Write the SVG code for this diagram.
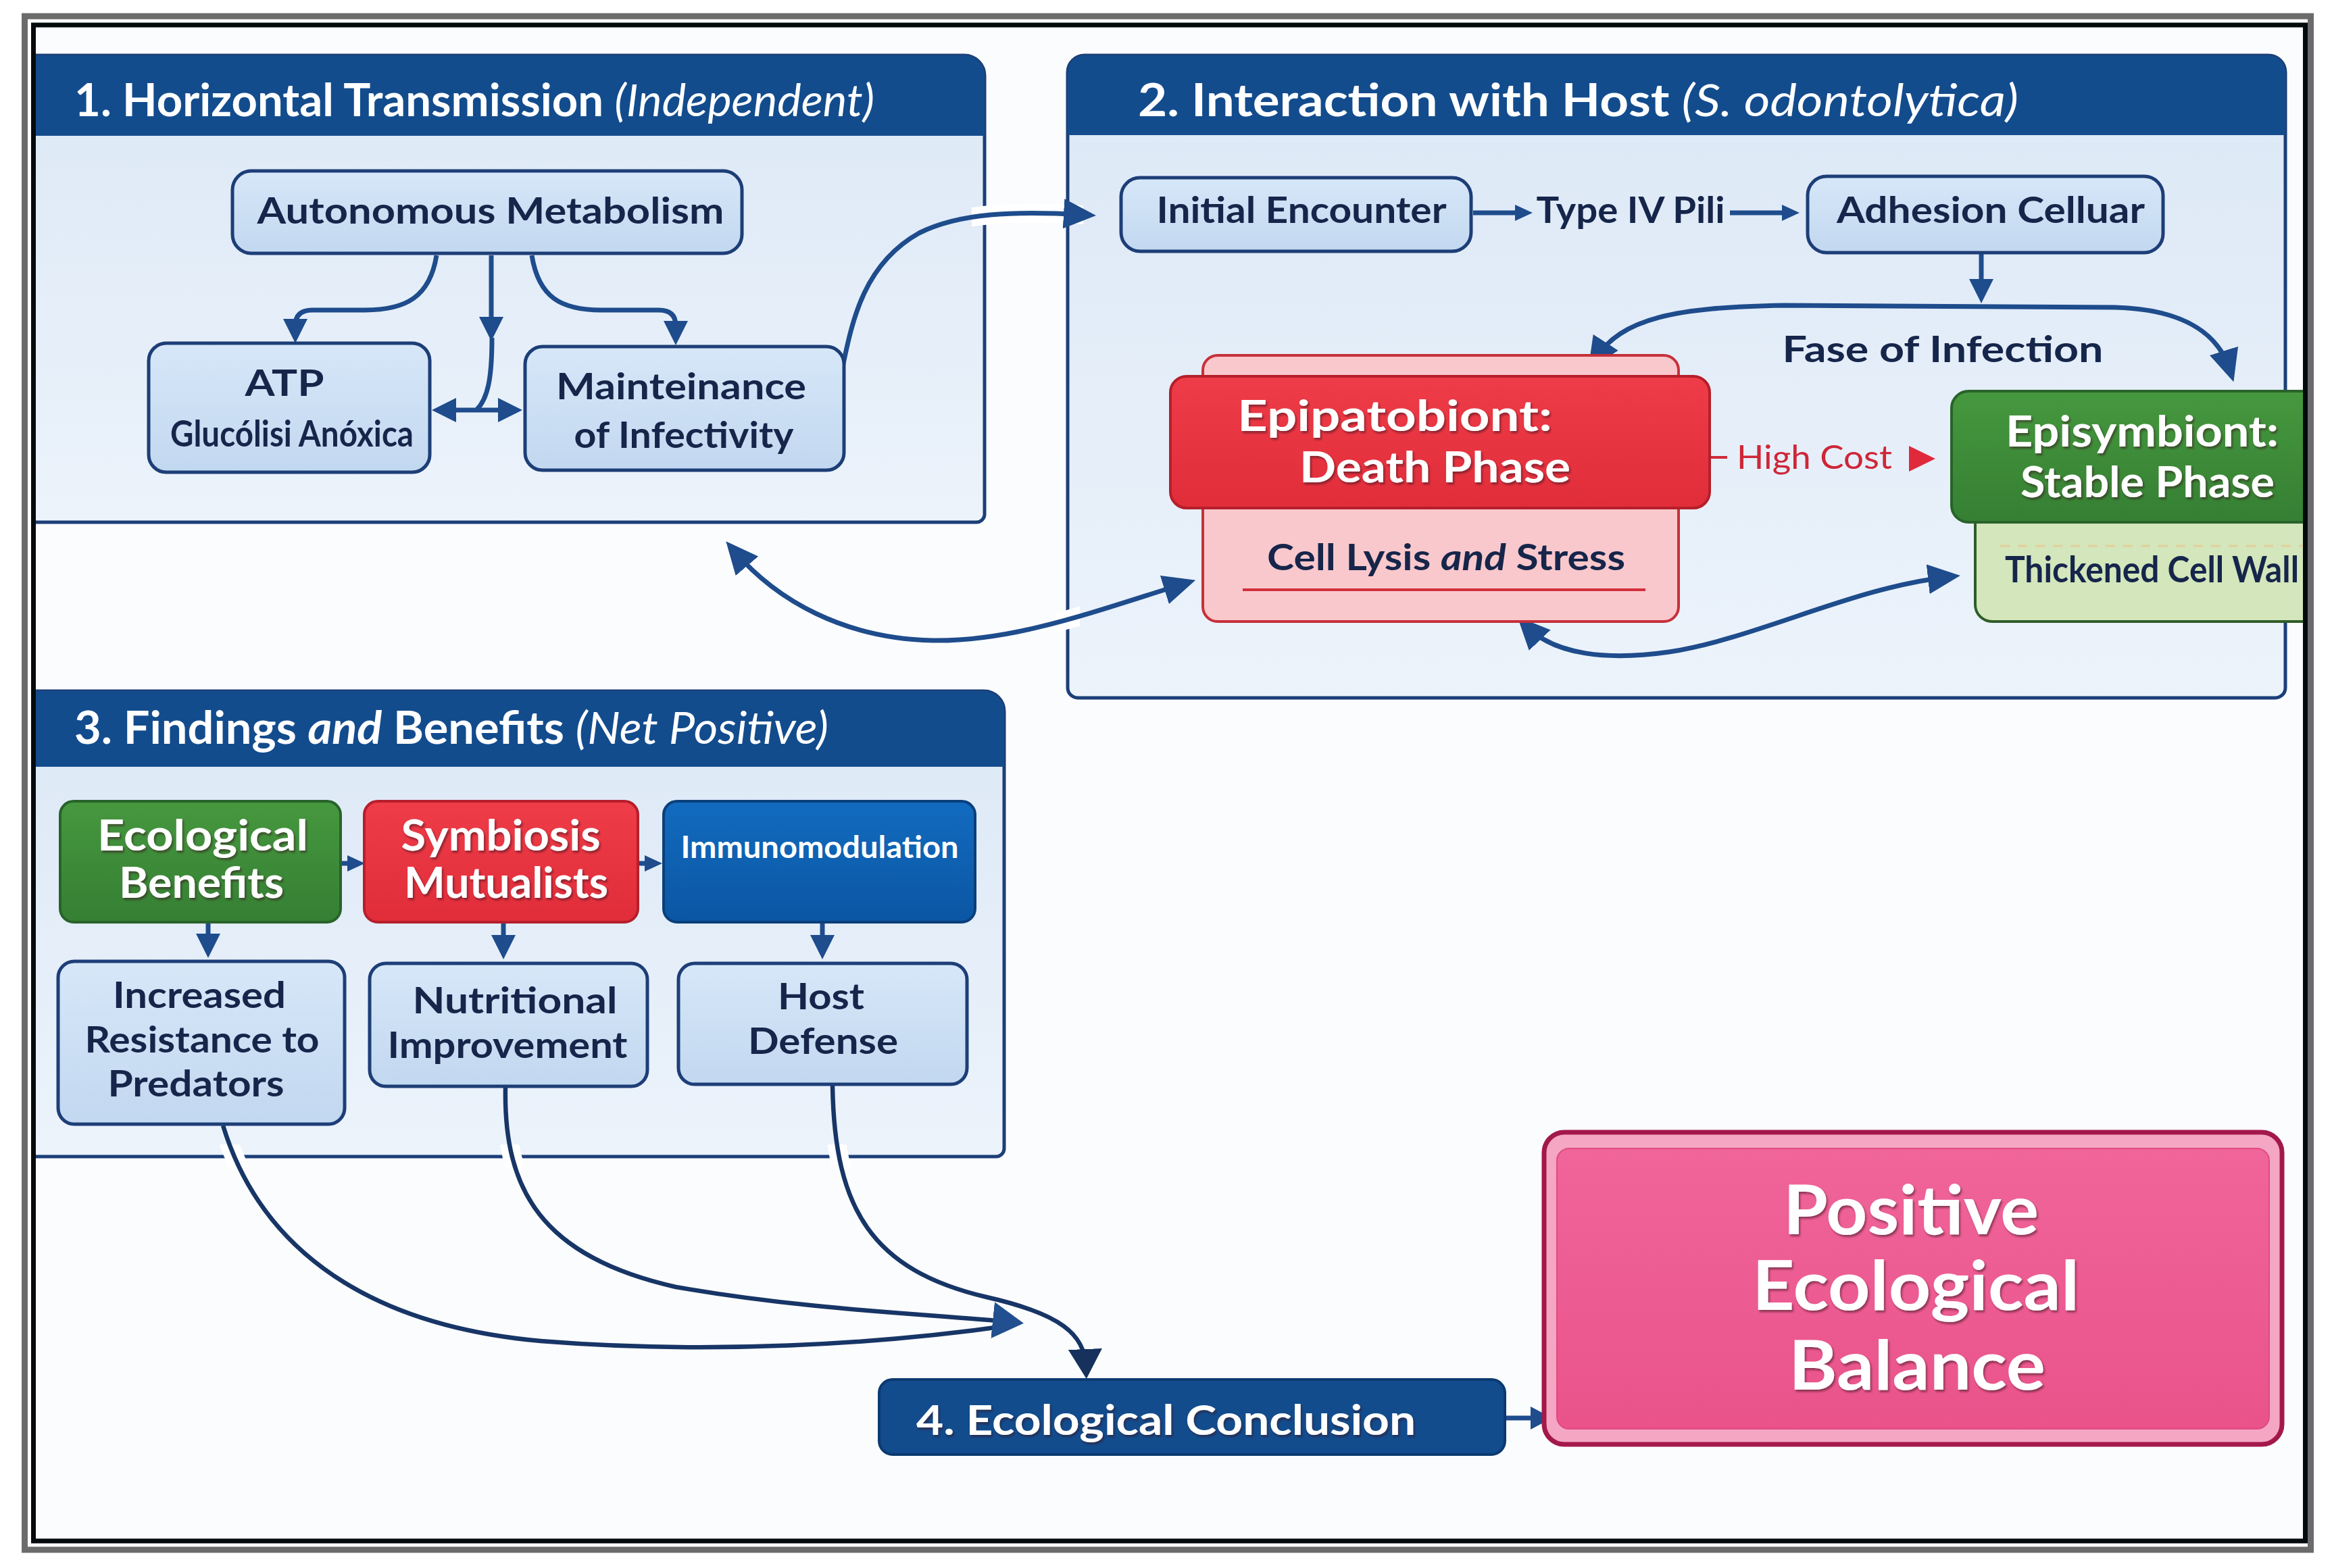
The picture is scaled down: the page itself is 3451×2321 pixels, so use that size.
<svg xmlns="http://www.w3.org/2000/svg" width="3451" height="2321" viewBox="0 0 3451 2321">
<style>
.t{font-family:Lato,"Liberation Sans",sans-serif}
.hd{font-size:66px;font-weight:700;fill:#ffffff}
.it{font-style:italic;font-weight:400}
.nd{font-size:54px;font-weight:700;fill:#16254a}
.wb{font-weight:700;fill:#ffffff}
.pnl{stroke:#1c3f78;stroke-width:5}
.hdr{fill:#134c8d}
.box{fill:url(#nf);stroke:#1d3e77;stroke-width:5}
.cn{fill:none;stroke:#1e4c8c;stroke-width:7}
.cd{fill:none;stroke:#173566;stroke-width:6.5}
.halo{fill:none;stroke:#ffffff;stroke-width:28}
</style>
<defs>
<linearGradient id="pf" x1="0" y1="0" x2="0" y2="1"><stop offset="0" stop-color="#dce8f6"/><stop offset="1" stop-color="#ecf3fb"/></linearGradient>
<linearGradient id="nf" x1="0" y1="0" x2="0" y2="1"><stop offset="0" stop-color="#d6e7f8"/><stop offset="1" stop-color="#c2d8f0"/></linearGradient>
<linearGradient id="gr" x1="0" y1="0" x2="0" y2="1"><stop offset="0" stop-color="#46983f"/><stop offset="1" stop-color="#357f33"/></linearGradient>
<linearGradient id="rd" x1="0" y1="0" x2="0" y2="1"><stop offset="0" stop-color="#ee3c48"/><stop offset="1" stop-color="#e12d3a"/></linearGradient>
<linearGradient id="bl" x1="0" y1="0" x2="0" y2="1"><stop offset="0" stop-color="#126bbf"/><stop offset="1" stop-color="#0b56a3"/></linearGradient>
<linearGradient id="pk" x1="0" y1="0" x2="0" y2="1"><stop offset="0" stop-color="#f0659a"/><stop offset="1" stop-color="#e9538a"/></linearGradient>
<filter id="ts" x="-10%" y="-20%" width="120%" height="150%"><feDropShadow dx="2" dy="3" stdDeviation="1.5" flood-color="#3a0a1a" flood-opacity="0.55"/></filter>
<clipPath id="cp1"><rect x="1438" y="200" width="165" height="300"/></clipPath>
<clipPath id="cp2"><rect x="1562" y="850" width="36" height="140"/></clipPath>
<clipPath id="cp3"><rect x="0" y="1694" width="1500" height="36"/></clipPath>
<marker id="a1" viewBox="0 0 36 36" markerUnits="userSpaceOnUse" markerWidth="36" markerHeight="36" refX="18" refY="18" orient="auto-start-reverse"><path d="M0,0 L36,18 L0,36 Z" fill="#1e4c8c"/></marker>
<marker id="a2" viewBox="0 0 48 44" markerUnits="userSpaceOnUse" markerWidth="48" markerHeight="44" refX="30" refY="22" orient="auto-start-reverse"><path d="M0,0 L48,22 L0,44 Z" fill="#1e4c8c"/></marker>
<marker id="a3" viewBox="0 0 26 24" markerUnits="userSpaceOnUse" markerWidth="26" markerHeight="24" refX="8" refY="12" orient="auto-start-reverse"><path d="M0,0 L26,12 L0,24 Z" fill="#1e4c8c"/></marker>
<marker id="a4" viewBox="0 0 46 54" markerUnits="userSpaceOnUse" markerWidth="46" markerHeight="54" refX="28" refY="27" orient="auto"><path d="M0,0 L46,27 L0,54 Z" fill="#214f8f"/></marker>
<marker id="a5" viewBox="0 0 44 50" markerUnits="userSpaceOnUse" markerWidth="44" markerHeight="50" refX="26" refY="25" orient="auto"><path d="M0,0 L44,25 L0,50 Z" fill="#15315c"/></marker>
<marker id="a6" viewBox="0 0 32 34" markerUnits="userSpaceOnUse" markerWidth="32" markerHeight="34" refX="14" refY="17" orient="auto"><path d="M0,0 L32,17 L0,34 Z" fill="#1e4c8c"/></marker>
</defs>

<rect x="0" y="0" width="3451" height="2321" fill="#ffffff"/>
<rect x="50" y="37" width="3362" height="2244" fill="#fbfcfd"/>

<g id="panel1">
<path class="pnl" fill="url(#pf)" d="M50,82 H1427 A30,30 0 0 1 1457,112 V761 A12,12 0 0 1 1445,773 H50 Z"/>
<path class="hdr" d="M50,82 H1427 A30,30 0 0 1 1457,112 V201 H50 Z"/>
<text class="t hd" x="110" y="172" textLength="1184" lengthAdjust="spacingAndGlyphs">1. Horizontal Transmission <tspan class="it">(Independent)</tspan></text>
</g>
<g id="panel2">
<path class="pnl" fill="url(#pf)" d="M1605,82 H3357 A25,25 0 0 1 3382,107 V1018 A15,15 0 0 1 3367,1033 H1595 A15,15 0 0 1 1580,1018 V107 A25,25 0 0 1 1605,82 Z"/>
<path class="hdr" d="M1605,82 H3357 A25,25 0 0 1 3382,107 V200 H1580 V107 A25,25 0 0 1 1605,82 Z"/>
<text class="t hd" x="1684" y="172" textLength="1303" lengthAdjust="spacingAndGlyphs">2. Interaction with Host <tspan class="it">(S. odontolytica)</tspan></text>
</g>
<g id="panel3">
<path class="pnl" fill="url(#pf)" d="M50,1023 H1456 A30,30 0 0 1 1486,1053 V1700 A12,12 0 0 1 1474,1712 H50 Z"/>
<path class="hdr" d="M50,1023 H1456 A30,30 0 0 1 1486,1053 V1135 H50 Z"/>
<text class="t hd" x="110" y="1101" textLength="1116" lengthAdjust="spacingAndGlyphs">3. Findings <tspan font-style="italic">and</tspan> Benefits <tspan class="it">(Net Positive)</tspan></text>
</g>

<g id="connectors">
<g clip-path="url(#cp1)"><path class="halo" d="M1247,543 C1262,470 1280,390 1360,345 C1420,315 1500,312 1604,318"/></g>
<g clip-path="url(#cp2)"><path class="halo" d="M1086,815 C1150,890 1250,945 1380,948 C1500,950 1620,905 1752,864"/></g>
<g clip-path="url(#cp3)">
<path class="halo" d="M330,1666 C380,1830 520,1960 800,1985"/>
<path class="halo" d="M748,1609 C745,1760 800,1860 1000,1905"/>
<path class="halo" d="M1232,1607 C1235,1790 1290,1880 1460,1920"/>
</g>
<path class="cn" d="M646,378 C636,440 600,459 540,459 L462,459 Q437,459 437,482 L437,490" marker-end="url(#a1)"/>
<path class="cn" d="M727,378 L727,487" marker-end="url(#a1)"/>
<path class="cn" d="M728,500 C728,560 722,590 705,607"/>
<path class="cn" d="M657,607 L755,607" marker-start="url(#a1)" marker-end="url(#a1)"/>
<path class="cn" d="M787,378 C797,440 830,459 890,459 L975,459 Q1000,459 1000,482 L1000,493" marker-end="url(#a1)"/>
<path class="cn" d="M1247,543 C1262,470 1280,390 1360,345 C1420,315 1500,312 1604,318" marker-end="url(#a2)"/>
<path class="cn" stroke-width="5" d="M2180,315 L2250,315" marker-end="url(#a3)"/>
<path class="cn" stroke-width="5" d="M2560,315 L2645,315" marker-end="url(#a3)"/>
<path class="cn" d="M2932,374 L2932,431" marker-end="url(#a1)"/>
<path class="cn" d="M2360,532 C2400,470 2480,455 2640,452 L3130,455 C3240,458 3285,500 3300,548" marker-start="url(#a2)" marker-end="url(#a2)"/>
<path fill="none" stroke="#cf2a3a" stroke-width="4" d="M2530,677 L2556,677"/>
<path fill="#e02a3c" d="M2825,660 L2864,679 L2825,698 Z"/>
<path class="cn" d="M1086,815 C1150,890 1250,945 1380,948 C1500,950 1620,905 1752,864" marker-start="url(#a2)" marker-end="url(#a2)"/>
<path class="cn" d="M2258,926 C2300,970 2380,978 2470,965 C2600,945 2740,870 2883,854" marker-start="url(#a2)" marker-end="url(#a2)"/>
<path class="cn" stroke-width="5" d="M504,1278 L522,1278" marker-end="url(#a3)"/>
<path class="cn" stroke-width="5" d="M944,1278 L962,1278" marker-end="url(#a3)"/>
<path class="cn" stroke-width="6" d="M308,1367 L308,1400" marker-end="url(#a1)"/>
<path class="cn" stroke-width="6" d="M745,1367 L745,1402" marker-end="url(#a1)"/>
<path class="cn" stroke-width="6" d="M1217,1367 L1217,1402" marker-end="url(#a1)"/>
<path class="cd" d="M330,1666 C380,1830 520,1960 800,1985 C1050,2005 1300,1990 1495,1962"/>
<path class="cd" d="M748,1609 C745,1760 800,1860 1000,1905 C1200,1940 1380,1945 1497,1957" marker-end="url(#a4)"/>
<path class="cd" d="M1232,1607 C1235,1790 1290,1880 1460,1920 C1570,1945 1605,1975 1607,2023" marker-end="url(#a5)"/>
<path class="cn" stroke-width="6" d="M2227,2099 L2279,2099" marker-end="url(#a6)"/>
</g>

<g id="autonomous">
<rect class="box" x="344" y="253" width="754" height="122" rx="28"/>
<text class="t nd" x="726" y="331" text-anchor="middle" textLength="691" lengthAdjust="spacingAndGlyphs">Autonomous Metabolism</text>
</g>
<g id="atp">
<rect class="box" x="220" y="508" width="416" height="191" rx="26"/>
<text class="t nd" x="421" y="586" text-anchor="middle" font-size="56" textLength="117" lengthAdjust="spacingAndGlyphs">ATP</text>
<text class="t nd" x="432" y="661" text-anchor="middle" font-size="44" textLength="360" lengthAdjust="spacingAndGlyphs">Glucólisi Anóxica</text>
</g>
<g id="maintenance">
<rect class="box" x="777" y="513" width="472" height="183" rx="26"/>
<text class="t nd" x="1008" y="591" text-anchor="middle" font-size="56" textLength="370" lengthAdjust="spacingAndGlyphs">Mainteinance</text>
<text class="t nd" x="1012" y="663" text-anchor="middle" font-size="56" textLength="325" lengthAdjust="spacingAndGlyphs">of Infectivity</text>
</g>

<g id="initial">
<rect class="box" x="1659" y="263" width="518" height="109" rx="28"/>
<text class="t nd" x="1926" y="330" text-anchor="middle" textLength="429" lengthAdjust="spacingAndGlyphs">Initial Encounter</text>
</g>
<g id="pili-label">
<text class="t nd" x="2413" y="330" text-anchor="middle" textLength="279" lengthAdjust="spacingAndGlyphs">Type IV Pili</text>
</g>
<g id="adhesion">
<rect class="box" x="2675" y="261" width="526" height="113" rx="28"/>
<text class="t nd" x="2946" y="330" text-anchor="middle" textLength="456" lengthAdjust="spacingAndGlyphs">Adhesion Celluar</text>
</g>
<g id="fase-label">
<text class="t nd" x="2875" y="536" text-anchor="middle" font-size="58" textLength="475" lengthAdjust="spacingAndGlyphs">Fase of Infection</text>
</g>
<g id="epipatobiont">
<rect x="1780" y="526" width="704" height="394" rx="22" fill="#f9c8cc" stroke="#c7303a" stroke-width="4"/>
<rect x="1732" y="557" width="798" height="195" rx="24" fill="url(#rd)" stroke="#b51f2b" stroke-width="4"/>
<text class="t wb" x="1831" y="638" font-size="64" filter="url(#ts)" textLength="466" lengthAdjust="spacingAndGlyphs">Epipatobiont:</text>
<text class="t wb" x="1923" y="714" font-size="64" filter="url(#ts)" textLength="401" lengthAdjust="spacingAndGlyphs">Death Phase</text>
<text class="t nd" x="1875" y="844" font-size="56" textLength="530" lengthAdjust="spacingAndGlyphs">Cell Lysis <tspan font-style="italic">and</tspan> Stress</text>
<path d="M1839,873 L2435,873" stroke="#d22f3c" stroke-width="4"/>
</g>
<g id="highcost-label">
<text class="t" x="2570" y="694" font-size="48" font-weight="400" fill="#cf2638" textLength="230" lengthAdjust="spacingAndGlyphs">High Cost</text>
</g>
<g id="episymbiont">
<path d="M2923,760 H3412 V920 H2948 A25,25 0 0 1 2923,895 Z" fill="#d3e6bc" stroke="#2f5c28" stroke-width="4"/>
<path d="M2960,808 L3410,808" stroke="#e2cf9a" stroke-width="3" stroke-dasharray="14 12"/>
<path d="M2913,579 H3412 V773 H2913 A25,25 0 0 1 2888,748 V604 A25,25 0 0 1 2913,579 Z" fill="url(#gr)" stroke="#28632a" stroke-width="4"/>
<text class="t wb" x="2968" y="661" font-size="64" filter="url(#ts)" textLength="404" lengthAdjust="spacingAndGlyphs">Episymbiont:</text>
<text class="t wb" x="2990" y="736" font-size="64" filter="url(#ts)" textLength="376" lengthAdjust="spacingAndGlyphs">Stable Phase</text>
<text class="t nd" x="2967" y="862" font-size="48" textLength="435" lengthAdjust="spacingAndGlyphs">Thickened Cell Wall</text>
</g>

<g id="ecological">
<rect x="89" y="1186" width="415" height="179" rx="20" fill="url(#gr)" stroke="#28632a" stroke-width="4"/>
<text class="t wb" x="300" y="1259" font-size="64" text-anchor="middle" filter="url(#ts)" textLength="312" lengthAdjust="spacingAndGlyphs">Ecological</text>
<text class="t wb" x="298" y="1329" font-size="64" text-anchor="middle" filter="url(#ts)" textLength="244" lengthAdjust="spacingAndGlyphs">Benefits</text>
</g>
<g id="symbiosis">
<rect x="539" y="1186" width="405" height="179" rx="20" fill="url(#rd)" stroke="#b51f2b" stroke-width="4"/>
<text class="t wb" x="741" y="1259" font-size="64" text-anchor="middle" filter="url(#ts)" textLength="295" lengthAdjust="spacingAndGlyphs">Symbiosis</text>
<text class="t wb" x="749" y="1329" font-size="64" text-anchor="middle" filter="url(#ts)" textLength="302" lengthAdjust="spacingAndGlyphs">Mutualists</text>
</g>
<g id="immuno">
<rect x="982" y="1186" width="461" height="179" rx="20" fill="url(#bl)" stroke="#0a3f7a" stroke-width="4"/>
<text class="t wb" x="1213" y="1270" font-size="46" text-anchor="middle" textLength="411" lengthAdjust="spacingAndGlyphs">Immunomodulation</text>
</g>
<g id="resistance">
<rect class="box" x="86" y="1423" width="424" height="241" rx="24"/>
<text class="t nd" x="295" y="1492" font-size="56" text-anchor="middle" textLength="256" lengthAdjust="spacingAndGlyphs">Increased</text>
<text class="t nd" x="299" y="1558" font-size="56" text-anchor="middle" textLength="347" lengthAdjust="spacingAndGlyphs">Resistance to</text>
<text class="t nd" x="290" y="1623" font-size="56" text-anchor="middle" textLength="261" lengthAdjust="spacingAndGlyphs">Predators</text>
</g>
<g id="nutritional">
<rect class="box" x="547" y="1426" width="411" height="182" rx="24"/>
<text class="t nd" x="762" y="1500" font-size="56" text-anchor="middle" textLength="303" lengthAdjust="spacingAndGlyphs">Nutritional</text>
<text class="t nd" x="751" y="1566" font-size="56" text-anchor="middle" textLength="355" lengthAdjust="spacingAndGlyphs">Improvement</text>
</g>
<g id="hostdefense">
<rect class="box" x="1004" y="1426" width="427" height="179" rx="24"/>
<text class="t nd" x="1215" y="1494" font-size="56" text-anchor="middle" textLength="128" lengthAdjust="spacingAndGlyphs">Host</text>
<text class="t nd" x="1218" y="1560" font-size="56" text-anchor="middle" textLength="222" lengthAdjust="spacingAndGlyphs">Defense</text>
</g>

<g id="conclusion">
<rect x="1301" y="2042" width="926" height="111" rx="20" fill="#124c8d" stroke="#0b3a70" stroke-width="4"/>
<text class="t wb" x="1356" y="2124" font-size="62" filter="url(#ts)" textLength="739" lengthAdjust="spacingAndGlyphs">4. Ecological Conclusion</text>
</g>
<g id="positive">
<rect x="2285" y="1676" width="1092" height="462" rx="30" fill="#f4a6c2" stroke="#a3184b" stroke-width="7"/>
<rect x="2304" y="1700" width="1054" height="415" rx="18" fill="url(#pk)" stroke="#e14a82" stroke-width="2"/>
<text class="t wb" x="2828" y="1827" font-size="102" text-anchor="middle" filter="url(#ts)" textLength="378" lengthAdjust="spacingAndGlyphs">Positive</text>
<text class="t wb" x="2835" y="1939" font-size="102" text-anchor="middle" filter="url(#ts)" textLength="484" lengthAdjust="spacingAndGlyphs">Ecological</text>
<text class="t wb" x="2837" y="2057" font-size="102" text-anchor="middle" filter="url(#ts)" textLength="380" lengthAdjust="spacingAndGlyphs">Balance</text>
</g>

<g id="frame">
<rect x="36.5" y="24" width="3383" height="2270" fill="none" stroke="#6b6b6b" stroke-width="9"/>
<rect x="49.5" y="37" width="3362" height="2244" fill="none" stroke="#050a0d" stroke-width="7"/>
</g>
</svg>
